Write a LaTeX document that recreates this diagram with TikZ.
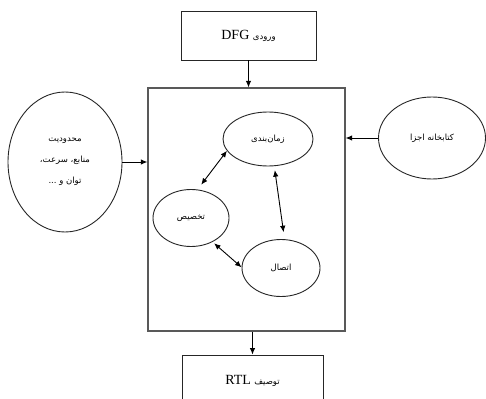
\documentclass[tikz,border=0pt]{standalone}
\usepackage{fontspec}
\setmainfont{Liberation Serif}
\newfontfamily\arabicfont[Script=Arabic]{DejaVu Sans}
\TeXXeTstate=1
\usetikzlibrary{shapes.geometric,arrows.meta}
\newcommand{\fa}[1]{{\arabicfont\fontsize{8.5}{10}\selectfont\beginR #1\endR}}
\begin{document}
\begin{tikzpicture}[x=1pt,y=-1pt,
  line width=0.9pt,
  box/.style={draw=black!85, rectangle, inner sep=0pt, font=\fontsize{14}{16}\selectfont},
  oval/.style={draw=black!85, ellipse, inner sep=0pt},
  arr/.style={-{Latex[length=6.5pt,width=5.5pt]}},
  darr/.style={{Latex[length=6.5pt,width=5.5pt]}-{Latex[length=6.5pt,width=5.5pt]}}]
\useasboundingbox (0,0) rectangle (486,398);
\clip (0,0) rectangle (486,398);
\node[box, minimum width=135pt, minimum height=49pt] (top) at (248.5,35.5) {DFG \fa{ورودی}};
\node[box, draw=black!65, line width=1.2pt, minimum width=197pt, minimum height=243pt] (main) at (246.5,209.5) {};
\node[box, minimum width=141pt, minimum height=52pt] (bottom) at (252.5,381) {RTL \fa{توصیف}};
\node[oval, minimum width=114pt, minimum height=140pt, align=center] (left) at (65,162)
  {\fa{محدودیت}\\[9pt]\fa{منابع، سرعت،}\\[9pt]\fa{توان و ...}};
\node[oval, minimum width=107pt, minimum height=82pt] (right) at (432,138) {\fa{کتابخانه اجزا}};
\node[oval, minimum width=90pt, minimum height=54pt] (sched) at (268,139) {\fa{زمان‌بندی}};
\node[oval, minimum width=76pt, minimum height=57pt] (alloc) at (191,218) {\fa{تخصیص}};
\node[oval, minimum width=78pt, minimum height=57pt] (conn) at (281,268) {\fa{اتصال}};
\draw[arr] (top.south) -- (top.south |- main.north);
\draw[arr] (left.east) -- (left.east -| main.west);
\draw[arr] (right.west) -- (right.west -| main.east);
\draw[arr] (main.south -| bottom.north) -- (bottom.north);
\draw[darr, shorten >=6pt] (sched.196) -- (alloc.77);
\draw[darr, shorten <=4pt, shorten >=7pt] (sched.283) -- (conn.83);
\draw[darr, shorten <=2pt] (alloc.312) -- (conn.179);
\end{tikzpicture}
\end{document}
